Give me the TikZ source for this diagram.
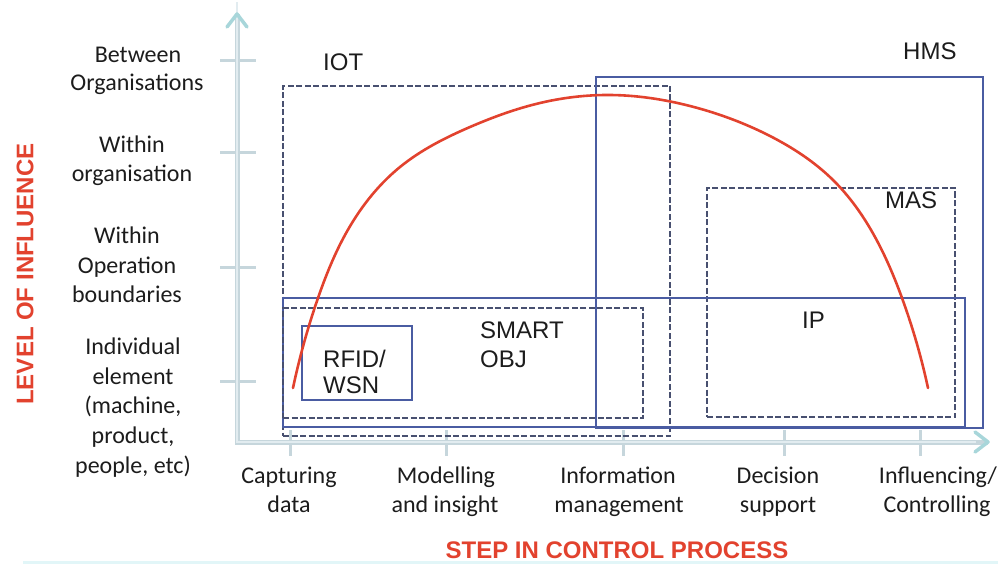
\documentclass[tikz,border=0pt]{standalone}
\usepackage{fontspec}
\setmainfont{Carlito}
\newfontfamily\arialf{Liberation Sans}
\usetikzlibrary{arrows.meta,hobby}
\definecolor{axisc}{RGB}{198,214,220}
\definecolor{axisin}{RGB}{226,236,240}
\definecolor{arrowc}{RGB}{168,214,218}
\definecolor{redc}{RGB}{226,66,46}
\definecolor{boxc}{RGB}{74,92,162}
\definecolor{dashc}{RGB}{72,80,112}
\definecolor{txtc}{RGB}{28,28,28}
\definecolor{stripc}{RGB}{226,246,248}
\begin{document}
\begin{tikzpicture}[x=1pt,y=-1pt,
  lbl/.style={font=\fontsize{24}{29}\selectfont, text=txtc, anchor=base, inner sep=0pt},
  blbl/.style={font=\arialf\fontsize{24}{27}\selectfont, text=txtc, anchor=base west, inner sep=0pt},
  ttl/.style={font=\arialf\bfseries\fontsize{24}{28}\selectfont, text=redc, inner sep=0pt},
  sbox/.style={draw=boxc, line width=1.3pt, inner sep=0pt, outer sep=0pt},
  dbox/.style={draw=dashc, line width=1.2pt, dash pattern=on 6pt off 2.5pt, inner sep=0pt, outer sep=0pt},
  axisline/.style={draw=axisc, line width=5pt},
  axisinner/.style={draw=axisin, line width=1.6pt},
  tickline/.style={draw=axisc, line width=3pt},
  chev/.style={draw=arrowc, line width=3.5pt, line cap=round, line join=round},
  curvel/.style={draw=redc, line width=2.6pt, line cap=round}
]
\useasboundingbox (0,0) rectangle (998,564);
\fill[stripc] (23,561) rectangle (998,564);

% axes
\coordinate (corner) at (237,442);
\coordinate (ytip) at (237,14);
\coordinate (xtip) at (988,442);
\foreach \yy in {61,153,267,381} \draw[tickline] (220,\yy) -- (256,\yy);
\foreach \xx in {290,446,623,784,920} \draw[tickline] (\xx,430) -- (\xx,456);
\draw[axisline] (ytip) -- (corner) -- (xtip);
\draw[axisinner] ([yshift=12]ytip) -- (corner) -- ([xshift=-12]xtip);
\draw[chev] ([shift={(-10,13)}]ytip) -- (ytip) -- ([shift={(10,13)}]ytip);
\draw[chev] ([shift={(-13,-10)}]xtip) -- (xtip) -- ([shift={(-13,10)}]xtip);

% boxes
\node[dbox, minimum width=387pt, minimum height=350pt] (iot) at (476.5,261) {};
\node[sbox, minimum width=387pt, minimum height=351pt] (hms) at (789.5,252.5) {};
\node[dbox, minimum width=248pt, minimum height=229pt] (mas) at (831,302.5) {};
\node[sbox, minimum width=682pt, minimum height=129pt] (ip) at (624,362.5) {};
\node[dbox, minimum width=360pt, minimum height=110pt] (smart) at (463,363) {};
\node[sbox, minimum width=110pt, minimum height=74pt] (rfid) at (357,363) {};

% box labels
\node[blbl] (tiot) at (323,71) {IOT};
\node[blbl] (thms) at (903,60) {HMS};
\node[blbl] (tmas) at (885,208) {MAS};
\node[blbl] (tip) at (802,328) {IP};
\node[blbl] (tsm1) at (480,338) {SMART};
\node[blbl] (tsm2) at (480,367) {OBJ};
\node[blbl] (trf1) at (323,367) {RFID/};
\node[blbl] (trf2) at (323,393) {WSN};

% curve
\draw[curvel, use Hobby shortcut] (293,388) .. (318,298) .. (345,235) .. (400,167)
  .. (470,127) .. (540,103) .. (610,95) .. (690,106) .. (770,136) .. (833,180)
  .. (875,237) .. (902,298) .. (928,388);

% y labels
\node[lbl] (y1a) at (138,63) {Between};
\node[lbl] (y1b) at (137,91) {Organisations};
\node[lbl] (y2a) at (132,153) {Within};
\node[lbl] (y2b) at (132,182) {organisation};
\node[lbl] (y3a) at (127,243) {Within};
\node[lbl] (y3b) at (127,273) {Operation};
\node[lbl] (y3c) at (127,302) {boundaries};
\node[lbl] (y4a) at (133,354) {Individual};
\node[lbl] (y4b) at (133,384) {element};
\node[lbl] (y4c) at (133,413) {(machine,};
\node[lbl] (y4d) at (133,443) {product,};
\node[lbl] (y4e) at (133,473) {people, etc)};

% x labels
\node[lbl] (x1a) at (289,483) {Capturing};
\node[lbl] (x1b) at (289,512) {data};
\node[lbl] (x2a) at (446,483) {Modelling};
\node[lbl] (x2b) at (445,512) {and insight};
\node[lbl] (x3a) at (618,483) {Information};
\node[lbl] (x3b) at (619,512) {management};
\node[lbl] (x4a) at (778,483) {Decision};
\node[lbl] (x4b) at (778,512) {support};
\node[lbl] (x5a) at (938,483) {Influencing/};
\node[lbl] (x5b) at (937,512) {Controlling};

% titles
\node[ttl, rotate=90] (ylab) at (25,274) {LEVEL OF INFLUENCE};
\node[ttl] (xlab) at (617,550) {STEP IN CONTROL PROCESS};
\end{tikzpicture}
\end{document}
